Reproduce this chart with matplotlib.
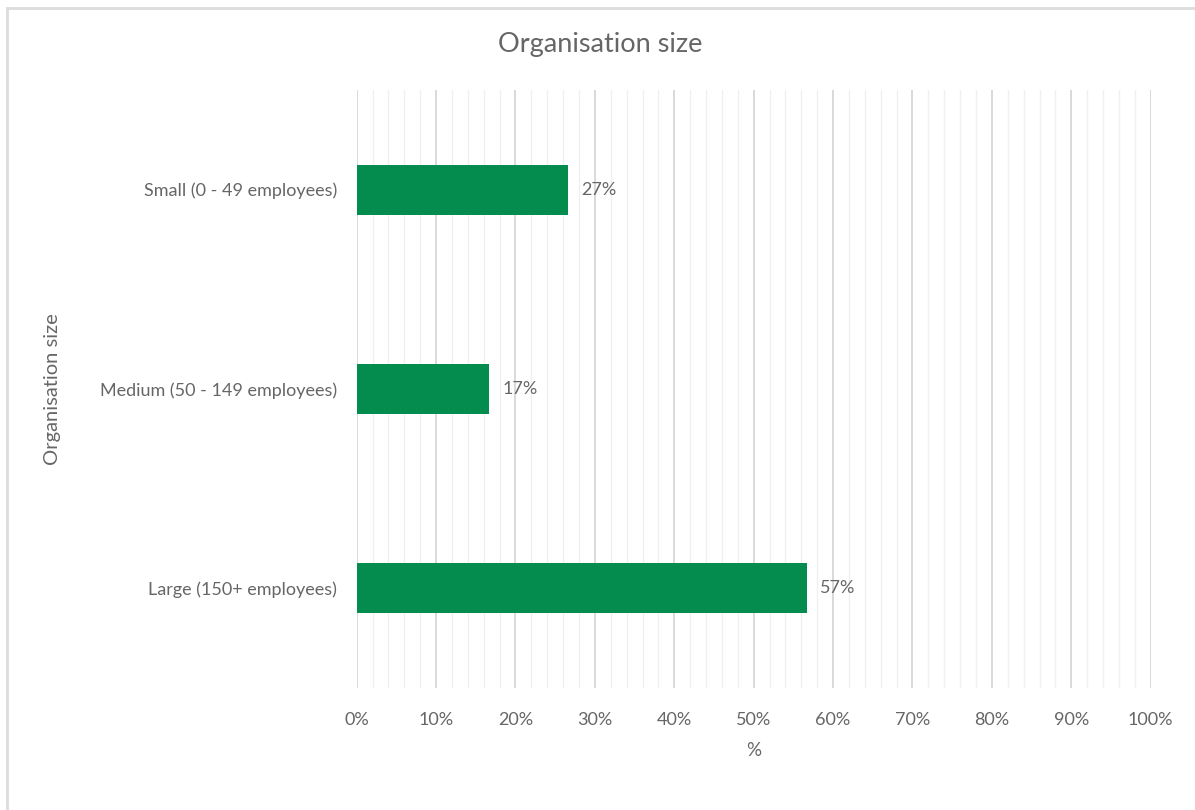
import matplotlib.pyplot as plt
from matplotlib.ticker import MultipleLocator, FuncFormatter
from matplotlib.patches import Rectangle

# organisation size breakdown
categories = ["Small (0 - 49 employees)", "Medium (50 - 149 employees)", "Large (150+ employees)"]
shares = [26.67, 16.67, 56.67]  # percent of respondents

text_grey = "#666666"
bar_green = "#038c4e"

plt.rcParams['font.family'] = ['Lato', 'DejaVu Sans']

fig = plt.figure(figsize=(11.95, 8.10), dpi=100)
ax = fig.add_axes([0.2985, 0.1506, 0.6644, 0.7383])

ypos = list(range(len(categories)))
bars = ax.barh(ypos, shares, height=0.25, color=bar_green, zorder=3)

for b, v in zip(bars, shares):
    ax.annotate(f"{v:.0f}%", (b.get_width(), b.get_y() + b.get_height() / 2),
                xytext=(9.5, 0), textcoords="offset points", va="center", ha="left",
                fontsize=13, color=text_grey)

ax.set_xlim(0, 100)
ax.set_ylim(len(categories) - 0.5, -0.5)
ax.set_yticks(ypos)
ax.set_yticklabels(categories)

ax.xaxis.set_major_locator(MultipleLocator(10))
ax.xaxis.set_minor_locator(MultipleLocator(2))
ax.xaxis.set_major_formatter(FuncFormatter(lambda x, p: f"{x:.0f}%"))

ax.grid(axis="x", which="major", color="#d9d9d9", lw=1.4, zorder=0)
ax.grid(axis="x", which="minor", color="#f0f0f0", lw=1.0, zorder=0)
ax.set_axisbelow(True)

for s in ax.spines.values():
    s.set_visible(False)

ax.tick_params(axis="both", which="both", length=0, labelsize=13, labelcolor=text_grey)
ax.tick_params(axis="x", pad=17)
ax.tick_params(axis="y", pad=14)

ax.set_xlabel("%", fontsize=13.5, color=text_grey, labelpad=10)
ax.set_ylabel("Organisation size", fontsize=14.5, color=text_grey, labelpad=28)

fig.text(0.5025, 0.945, "Organisation size", ha="center", va="center",
         fontsize=19.5, color=text_grey)

# chart area outline (only top and left edges fall inside the image)
fig.patches.append(Rectangle((7 / 1195, -0.1), 1.2, 1.1 - 8 / 810, transform=fig.transFigure,
                             fill=False, edgecolor="#dcdcdc", lw=2))

fig.savefig("out.png", dpi=100)
